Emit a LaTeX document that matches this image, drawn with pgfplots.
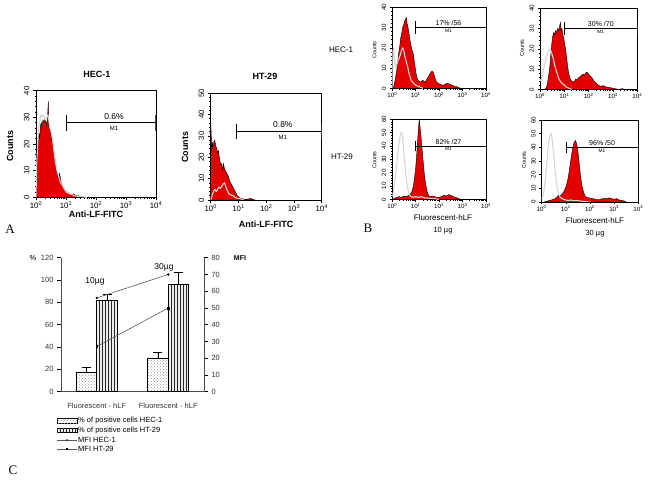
\documentclass[border=0pt]{standalone}
\usepackage{pgfplots}
\pgfplotsset{compat=1.18}
\usepackage{fontspec}
\setmainfont{Liberation Sans}
\newfontfamily\letterfont{Liberation Serif}
\usetikzlibrary{patterns}

\definecolor{facsred}{RGB}{226,0,0}
\definecolor{ctrlgray}{RGB}{212,212,212}

\tikzset{gate/.style={black, line width=0.6pt}}

\pgfplotsset{
  hist/.style={
    scale only axis, anchor=north west, xmin=0, xmax=4, ymin=0,
    axis line style={line width=0.7pt},
    xtick={0,1,2,3,4},
    xticklabels={10\textsuperscript{0},10\textsuperscript{1},10\textsuperscript{2},10\textsuperscript{3},10\textsuperscript{4}},
    minor xtick={0.301,0.477,0.602,0.699,0.778,0.845,0.903,0.954,
      1.301,1.477,1.602,1.699,1.778,1.845,1.903,1.954,
      2.301,2.477,2.602,2.699,2.778,2.845,2.903,2.954,
      3.301,3.477,3.602,3.699,3.778,3.845,3.903,3.954},
    minor y tick num=4,
    tick align=outside, xtick pos=bottom, ytick pos=left,
    major tick length=3pt, minor tick length=1.5pt,
    tick style={black, line width=0.5pt},
    y tick label style={rotate=90, anchor=south},
    /pgf/number format/assume math mode=true,
  },
  histA/.style={hist, tick label style={font=\fontsize{7.8}{8}\selectfont},
    x tick label style={inner sep=1.5pt}},
  histB/.style={hist, tick label style={font=\fontsize{6.2}{7}\selectfont},
    x tick label style={inner sep=1.2pt},
    major tick length=2.5pt, minor tick length=1.2pt},
  facs/.style={fill=facsred, draw=black, line width=0.4pt},
  ctrl/.style={ctrlgray, line width=1.1pt, line join=round},
}

\begin{document}
\begin{tikzpicture}
\useasboundingbox (0pt,0pt) rectangle (648pt,-485pt);

% ---------- A: HEC-1
\begin{axis}[histA, at={(36pt,-90.7pt)}, width=120pt, height=106.6pt,
  ymax=40, ytick={0,10,20,30,40}]
\addplot[facs] coordinates {(0,0)(0.02,9)(0.04,16)(0.07,20)(0.1,24)(0.12,22)(0.15,27)(0.18,28)(0.2,26)(0.23,29)(0.26,28)(0.29,30)(0.32,29)(0.35,27)(0.38,29)(0.41,36)(0.43,26)(0.47,25)(0.5,23)(0.54,21)(0.58,19)(0.62,15)(0.66,12)(0.69,10)(0.72,8)(0.75,7)(0.78,9)(0.8,8)(0.83,6)(0.86,5)(0.9,4)(0.94,3)(0.98,2.5)(1.03,2)(1.1,1.5)(1.18,1)(1.26,1.2)(1.35,0.6)(1.45,0.5)(1.55,0.3)(1.6,0)} \closedcycle;
\addplot[ctrl] coordinates {(0,0)(0.02,12)(0.05,18)(0.08,25)(0.12,28)(0.16,31)(0.2,30)(0.25,31)(0.3,29)(0.35,30)(0.4,31)(0.45,27)(0.5,25)(0.55,22)(0.6,17)(0.65,13)(0.7,10)(0.75,8)(0.8,6)(0.85,5)(0.9,4)(0.95,3)(1.0,2)(1.1,1.5)(1.2,1)(1.3,0.5)(1.5,0.3)(1.7,0)};
\draw[gate] (axis cs:1,28) -- (axis cs:4,28);
\draw[gate] (axis cs:1,25) -- (axis cs:1,31);
\draw[gate, gray!60!black, line width=1pt] (axis cs:4,25) -- (axis cs:4,31);
\node[font=\fontsize{8.5}{9}\selectfont, above] at (axis cs:2.6,28) {0.6\%};
\node[font=\fontsize{6}{6}\selectfont, below] at (axis cs:2.6,28) {M1};
\end{axis}

% ---------- A: HT-29
\begin{axis}[histA, at={(210.7pt,-93pt)}, width=111pt, height=107pt,
  ymax=50, ytick={0,10,20,30,40,50}]
\addplot[facs] coordinates {(0,0)(0.005,35)(0.02,30)(0.04,22)(0.06,27)(0.08,25)(0.1,26)(0.13,28)(0.16,27)(0.19,25)(0.22,24)(0.25,22)(0.28,23)(0.31,20)(0.34,18)(0.37,16)(0.4,17)(0.43,14)(0.46,17)(0.49,15)(0.52,14)(0.56,13)(0.6,12)(0.64,11)(0.68,9)(0.72,8)(0.76,7)(0.8,6)(0.84,5)(0.88,4)(0.92,3)(0.96,2)(1.0,1.6)(1.05,1)(1.1,0.8)(1.2,0.4)(1.3,0.3)(1.45,0.8)(1.5,0.3)(1.6,0)} \closedcycle;
\addplot[ctrl] coordinates {(0,0)(0.05,2)(0.1,4)(0.15,5)(0.2,4)(0.25,5)(0.3,6)(0.35,5.5)(0.4,6.5)(0.45,7.5)(0.5,8)(0.55,6)(0.6,4.5)(0.65,3)(0.7,2.5)(0.8,2)(0.9,1)(1.0,0.8)(1.1,0.5)(1.2,0)};
\draw[gate] (axis cs:0.94,32) -- (axis cs:4,32);
\draw[gate] (axis cs:0.94,28.5) -- (axis cs:0.94,35.5);
\draw[gate, gray!60!black, line width=1pt] (axis cs:4,28.5) -- (axis cs:4,35.5);
\node[font=\fontsize{8.5}{9}\selectfont, above] at (axis cs:2.6,32) {0.8\%};
\node[font=\fontsize{6}{6}\selectfont, below] at (axis cs:2.6,32) {M1};
\end{axis}

% ---------- B: HEC-1 10 ug
\begin{axis}[histB, at={(392.3pt,-7.3pt)}, width=93.7pt, height=81pt,
  ymax=40, ytick={0,10,20,30,40}]
\addplot[facs] coordinates {(0,0)(0.04,0)(0.08,2)(0.12,4)(0.16,7)(0.2,10)(0.24,14)(0.28,18)(0.32,21)(0.36,25)(0.4,27)(0.44,30)(0.48,31)(0.52,33)(0.56,34)(0.6,35)(0.63,32)(0.66,31)(0.7,28)(0.74,25)(0.78,22)(0.82,20)(0.86,18)(0.9,17)(0.94,13)(0.98,10)(1.02,7)(1.06,5)(1.1,4)(1.15,3.5)(1.2,3)(1.25,3.5)(1.3,4)(1.35,3.5)(1.4,3)(1.45,4)(1.5,5)(1.55,6)(1.6,7)(1.65,8)(1.7,8.5)(1.75,8)(1.8,6)(1.85,4)(1.9,3)(1.95,2.5)(2.05,2)(2.15,1.5)(2.25,2)(2.35,2.5)(2.45,2)(2.55,1.5)(2.65,1)(2.75,0.8)(2.85,0.3)(2.9,0)} \closedcycle;
\addplot[ctrl] coordinates {(0,0)(0.02,18)(0.06,20)(0.1,14)(0.14,10)(0.2,12)(0.25,14)(0.3,15)(0.35,17)(0.4,19)(0.45,20)(0.5,18)(0.55,15)(0.6,13)(0.65,11)(0.7,8)(0.75,6)(0.8,4)(0.9,2.5)(1.0,1.5)(1.1,1)(1.2,0.5)(1.3,0)};
\draw[gate] (axis cs:1,30) -- (axis cs:4,30);
\draw[gate] (axis cs:1,27) -- (axis cs:1,33);
\draw[gate, gray!60!black, line width=1pt] (axis cs:4,27) -- (axis cs:4,33);
\node[font=\fontsize{7}{7}\selectfont, above, inner sep=1.5pt] at (axis cs:2.4,30) {17\% /56};
\node[font=\fontsize{4.8}{5}\selectfont, below, inner sep=1.5pt] at (axis cs:2.4,30) {M1};
\end{axis}

% ---------- B: HEC-1 30 ug
\begin{axis}[histB, at={(540pt,-8.3pt)}, width=97.3pt, height=81pt,
  ymax=40, ytick={0,10,20,30,40}]
\addplot[facs] coordinates {(0.2,0)(0.27,1)(0.32,4)(0.37,8)(0.41,12)(0.45,18)(0.48,22)(0.52,26)(0.56,28)(0.6,27)(0.64,29)(0.68,28)(0.72,30)(0.76,29)(0.8,31)(0.84,33)(0.87,29)(0.9,30)(0.94,27)(0.98,25)(1.02,22)(1.06,19)(1.1,15)(1.14,11)(1.18,8)(1.22,6)(1.27,4.5)(1.32,4)(1.37,3.5)(1.42,4)(1.47,5)(1.52,4.5)(1.57,5.5)(1.62,6)(1.67,6.5)(1.72,7)(1.77,7.5)(1.82,7)(1.87,8)(1.92,8.5)(1.97,8)(2.02,7)(2.07,6.5)(2.12,6)(2.17,5)(2.22,4)(2.3,3)(2.4,2)(2.5,1.5)(2.6,1.8)(2.7,1.2)(2.8,1)(2.9,0.8)(3.0,0.5)(3.1,0.3)(3.2,0)(3.4,0.3)(3.45,0)} \closedcycle;
\addplot[ctrl] coordinates {(0,4)(0.05,5)(0.1,7)(0.15,10)(0.2,13)(0.25,15)(0.3,17)(0.35,19)(0.4,20)(0.45,19)(0.5,17)(0.55,15)(0.6,12)(0.65,10)(0.7,8)(0.75,6)(0.8,4.5)(0.9,3)(1.0,2)(1.1,1)(1.2,0.5)(1.3,0)};
\draw[gate] (axis cs:1,30) -- (axis cs:4,30);
\draw[gate] (axis cs:1,27) -- (axis cs:1,33);
\draw[gate, gray!60!black, line width=1pt] (axis cs:4,27) -- (axis cs:4,33);
\node[font=\fontsize{7}{7}\selectfont, above, inner sep=1.5pt] at (axis cs:2.5,30) {30\% /70};
\node[font=\fontsize{4.8}{5}\selectfont, below, inner sep=1.5pt] at (axis cs:2.5,30) {M1};
\end{axis}

% ---------- B: HT-29 10 ug
\begin{axis}[histB, at={(392.3pt,-119.3pt)}, width=93.7pt, height=80pt,
  ymax=60, ytick={0,10,20,30,40,50,60}]
\addplot[facs] coordinates {(0.05,0)(0.1,1)(0.2,1.5)(0.3,2)(0.4,1.5)(0.5,2.5)(0.6,2)(0.7,3)(0.78,4)(0.84,6)(0.9,10)(0.95,16)(1.0,24)(1.04,33)(1.08,44)(1.12,54)(1.15,60)(1.18,55)(1.22,48)(1.26,40)(1.3,32)(1.34,24)(1.38,17)(1.42,12)(1.46,8)(1.5,5)(1.55,3)(1.6,2)(1.7,2.5)(1.8,2)(1.9,1.5)(2.0,1.5)(2.1,2)(2.2,3)(2.3,2.5)(2.4,3.5)(2.5,3)(2.6,2)(2.7,1.5)(2.8,0.8)(2.9,0)} \closedcycle;
\addplot[ctrl] coordinates {(0,2)(0.05,6)(0.1,12)(0.15,20)(0.2,28)(0.25,36)(0.3,44)(0.35,49)(0.4,50)(0.44,46)(0.48,38)(0.52,30)(0.56,22)(0.6,15)(0.65,9)(0.7,5)(0.75,3)(0.8,2)(0.9,1.5)(1.0,2)(1.1,1.5)(1.2,2)(1.3,1.5)(1.4,1)(1.6,0.8)(1.8,0.5)(2.0,0)};
\draw[gate] (axis cs:0.97,40) -- (axis cs:4,40);
\draw[gate] (axis cs:0.97,36) -- (axis cs:0.97,44);
\draw[gate, gray!60!black, line width=1pt] (axis cs:4,36) -- (axis cs:4,44);
\node[font=\fontsize{7}{7}\selectfont, above, inner sep=1.5pt] at (axis cs:2.4,40) {82\% /27};
\node[font=\fontsize{4.8}{5}\selectfont, below, inner sep=1.5pt] at (axis cs:2.4,40) {M1};
\end{axis}

% ---------- B: HT-29 30 ug
\begin{axis}[histB, at={(541.7pt,-120pt)}, width=96.6pt, height=82pt,
  ymax=60, ytick={0,10,20,30,40,50,60}]
\addplot[facs] coordinates {(0.1,0)(0.2,0.5)(0.3,1)(0.4,1.5)(0.5,2)(0.6,3)(0.65,4)(0.7,5)(0.75,4)(0.8,5)(0.85,6)(0.9,7)(0.95,9)(1.0,11)(1.05,14)(1.1,18)(1.15,24)(1.2,30)(1.25,36)(1.3,41)(1.35,44)(1.4,45)(1.44,43)(1.48,40)(1.52,34)(1.56,27)(1.6,20)(1.64,15)(1.68,11)(1.72,8)(1.78,5)(1.85,3.5)(1.95,3)(2.1,2.5)(2.25,2)(2.4,2)(2.55,2.5)(2.7,2.5)(2.8,3)(2.9,2.5)(3.0,2)(3.1,2.5)(3.2,1.5)(3.3,1.2)(3.4,0.8)(3.5,0)} \closedcycle;
\addplot[ctrl] coordinates {(0,2)(0.05,5)(0.1,9)(0.15,16)(0.2,26)(0.25,37)(0.3,45)(0.35,49)(0.4,50)(0.45,43)(0.5,34)(0.55,24)(0.6,16)(0.65,10)(0.7,6)(0.75,4)(0.8,3)(0.9,2)(1.0,1.5)(1.1,1)(1.2,1.5)(1.3,1)(1.5,1)(1.7,0.5)(2.0,0)};
\draw[gate] (axis cs:1,40) -- (axis cs:4,40);
\draw[gate] (axis cs:1,36) -- (axis cs:1,44);
\draw[gate, gray!60!black, line width=1pt] (axis cs:4,36) -- (axis cs:4,44);
\node[font=\fontsize{7}{7}\selectfont, above, inner sep=1.5pt] at (axis cs:2.5,40) {96\% /50};
\node[font=\fontsize{4.8}{5}\selectfont, below, inner sep=1.5pt] at (axis cs:2.5,40) {M1};
\end{axis}

% ---------- C: bars (% positive cells), left axis
\begin{axis}[scale only axis, anchor=north west, at={(61pt,-257.7pt)},
  width=143pt, height=134pt,
  xmin=-0.5, xmax=1.5, ymin=0, ymax=120, ytick={0,20,...,120},
  axis x line*=bottom, axis y line*=left,
  axis line style={line width=0.5pt, gray!60!black},
  xtick={0,1}, xticklabels={Fluorescent - hLF, Fluorescent - hLF},
  x tick style={draw=none},
  extra x ticks={0.5}, extra x tick labels={},
  extra x tick style={tick style={draw=black, line width=0.5pt}, major tick length=4pt},
  tick align=outside, major tick length=4pt,
  y tick style={black, line width=0.5pt},
  tick label style={font=\fontsize{7.5}{8}\selectfont, text=black!80},
  x tick label style={yshift=-4pt},
  /pgf/number format/assume math mode=true,
  ybar=0pt, bar width=20.7pt,
  error bars/y dir=plus, error bars/y explicit,
  error bars/error bar style={black, line width=0.6pt},
  error bars/error mark options={rotate=90, mark size=4.5pt, line width=0.6pt, black},
]
\addplot[fill=white, draw=black, line width=1pt,
  postaction={pattern=crosshatch dots, pattern color=gray!80}]
  coordinates {(0,17) +- (0,5) (1,30) +- (0,5)};
\addplot[fill=gray!15, draw=black, line width=1pt,
  postaction={pattern=vertical lines, pattern color=black!85}]
  coordinates {(0,82) +- (0,5) (1,96) +- (0,10.5)};
\end{axis}

% ---------- C: MFI, right axis
\begin{axis}[scale only axis, anchor=north west, at={(61pt,-257.7pt)},
  width=143pt, height=134pt,
  xmin=-0.5, xmax=1.5, ymin=0, ymax=80, ytick={0,10,...,80},
  axis x line=none, axis y line*=right,
  axis line style={line width=0.5pt, gray!60!black},
  tick align=outside, major tick length=4pt,
  y tick style={black, line width=0.5pt},
  tick label style={font=\fontsize{7.5}{8}\selectfont, text=black!80},
  /pgf/number format/assume math mode=true,
]
\addplot[gray!70!black, line width=0.6pt, mark=*, mark size=0.9pt, mark options={black}]
  coordinates {(0,56) (1,70)};
\addplot[gray!70!black, line width=0.6pt, mark=square*, mark size=0.9pt, mark options={black}]
  coordinates {(0,27) (1,50)};
\end{axis}

% ---------- text
\node[font=\bfseries\fontsize{9}{10}\selectfont] at (97pt,-74pt) {HEC-1};
\node[font=\bfseries\fontsize{9}{10}\selectfont] at (265pt,-76pt) {HT-29};
\node[font=\bfseries\fontsize{9}{10}\selectfont] at (96pt,-214pt) {Anti-LF-FITC};
\node[font=\bfseries\fontsize{9}{10}\selectfont] at (266pt,-224pt) {Anti-LF-FITC};
\node[font=\bfseries\fontsize{9}{10}\selectfont, rotate=90] at (10pt,-146pt) {Counts};
\node[font=\bfseries\fontsize{9}{10}\selectfont, rotate=90] at (185pt,-147pt) {Counts};

\node[font=\fontsize{5.5}{6}\selectfont, rotate=90] at (374.5pt,-50pt) {Counts};
\node[font=\fontsize{5.5}{6}\selectfont, rotate=90] at (522pt,-48pt) {Counts};
\node[font=\fontsize{5.5}{6}\selectfont, rotate=90] at (374.5pt,-160pt) {Counts};
\node[font=\fontsize{5.5}{6}\selectfont, rotate=90] at (524pt,-160pt) {Counts};
\node[font=\fontsize{8}{8}\selectfont] at (341pt,-50pt) {HEC-1};
\node[font=\fontsize{8}{8}\selectfont] at (342pt,-157pt) {HT-29};
\node[font=\fontsize{8}{8}\selectfont] at (443pt,-218pt) {Fluorescent-hLF};
\node[font=\fontsize{8}{8}\selectfont] at (595pt,-221pt) {Fluorescent-hLF};
\node[font=\fontsize{7.5}{8}\selectfont] at (443pt,-231pt) {10 µg};
\node[font=\fontsize{7.5}{8}\selectfont] at (595pt,-234pt) {30 µg};

\node[font=\fontsize{7.5}{8}\selectfont] at (33pt,-258pt) {\%};
\node[font=\bfseries\fontsize{7}{8}\selectfont] at (240pt,-258pt) {MFI};
\node[font=\fontsize{8.5}{9}\selectfont] at (95pt,-281pt) {10µg};
\node[font=\fontsize{8.5}{9}\selectfont] at (164pt,-267pt) {30µg};

% legend
\filldraw[fill=white, draw=black, line width=0.8pt, postaction={pattern=crosshatch dots, pattern color=gray!80}]
  (57pt,-418.5pt) rectangle (77pt,-423pt);
\node[font=\fontsize{7.5}{8}\selectfont, anchor=west, inner sep=0.5pt] at (77.5pt,-420.7pt) {\% of positive cells HEC-1};
\filldraw[fill=gray!15, draw=black, line width=0.8pt, postaction={pattern=vertical lines, pattern color=black!85}]
  (57pt,-428pt) rectangle (77pt,-432.5pt);
\node[font=\fontsize{7.5}{8}\selectfont, anchor=west, inner sep=0.5pt] at (77.5pt,-430.3pt) {\% of positive cells HT-29};
\draw[gray!70!black, line width=0.6pt] (57pt,-440pt) -- (77pt,-440pt);
\fill[black] (67pt,-440pt) circle (0.9pt);
\node[font=\fontsize{7.5}{8}\selectfont, anchor=west, inner sep=0.5pt] at (77.5pt,-440pt) {MFI HEC-1};
\draw[gray!70!black, line width=0.6pt] (57pt,-449.3pt) -- (77pt,-449.3pt);
\fill[black] (66pt,-448.3pt) rectangle (68pt,-450.3pt);
\node[font=\fontsize{7.5}{8}\selectfont, anchor=west, inner sep=0.5pt] at (77.5pt,-449.3pt) {MFI HT-29};

% panel letters
\node[font=\letterfont\fontsize{13}{14}\selectfont] at (10pt,-229pt) {A};
\node[font=\letterfont\fontsize{13}{14}\selectfont] at (368pt,-228pt) {B};
\node[font=\letterfont\fontsize{13}{14}\selectfont] at (13pt,-470pt) {C};
\end{tikzpicture}
\end{document}
